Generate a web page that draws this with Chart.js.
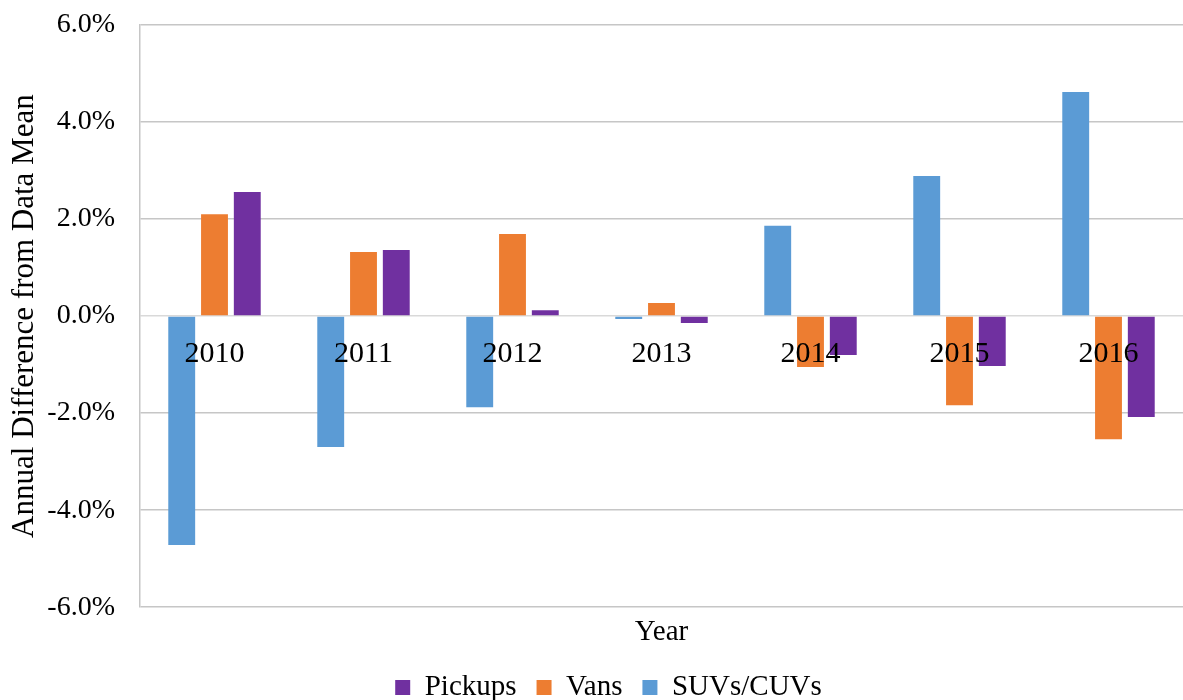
<!DOCTYPE html>
<html>
<head>
<meta charset="utf-8">
<script src="https://cdn.jsdelivr.net/npm/chart.js@4/dist/chart.umd.min.js"></script>
<style>
  html, body { margin: 0; padding: 0; background: #ffffff; }
  #wrap { width: 1183px; height: 700px; position: relative; }
</style>
</head>
<body>
<div id="wrap"><canvas id="c" width="1183" height="700"></canvas></div>
<script>
const years = ['2010', '2011', '2012', '2013', '2014', '2015', '2016'];
const suvValues = [-4.72, -2.70, -1.88, -0.06, 1.86, 2.89, 4.62];
const vanValues = [2.10, 1.32, 1.69, 0.27, -1.05, -1.84, -2.54];
const pickupValues = [2.56, 1.36, 0.12, -0.14, -0.80, -1.03, -2.08];
const yTicks = [-6, -4, -2, 0, 2, 4, 6];

const FONT = "'Liberation Serif', 'Times New Roman', serif";

// Category labels drawn next to the zero line, on top of the bars
const yearLabelsPlugin = {
  id: 'yearLabels',
  afterDatasetsDraw(chart) {
    const xs = chart.scales.x, ys = chart.scales.y;
    const ctx = chart.ctx;
    const y0 = ys.getPixelForValue(0);
    ctx.save();
    ctx.font = '30px ' + FONT;
    ctx.fillStyle = '#000000';
    ctx.textAlign = 'center';
    ctx.textBaseline = 'alphabetic';
    chart.data.labels.forEach((lab, i) => {
      ctx.fillText(lab, xs.getPixelForValue(i), y0 + 46);
    });
    ctx.restore();
  }
};

new Chart(document.getElementById('c'), {
  type: 'bar',
  data: {
    labels: years,
    datasets: [
      { label: 'SUVs/CUVs', data: suvValues, backgroundColor: '#5B9BD5', xAxisID: 'x' },
      { label: 'Vans', data: vanValues, backgroundColor: '#ED7D31', xAxisID: 'x' },
      { label: 'Pickups', data: pickupValues, backgroundColor: '#7030A0', xAxisID: 'x' }
    ]
  },
  plugins: [yearLabelsPlugin],
  options: {
    responsive: false,
    animation: false,
    devicePixelRatio: 1,
    categoryPercentage: 0.66,
    barPercentage: 0.82,
    layout: { padding: { top: 0, right: 0, bottom: -12, left: 34 } },
    plugins: {
      tooltip: { enabled: false },
      legend: {
        position: 'bottom',
        reverse: true,
        labels: {
          font: { family: FONT, size: 29 },
          color: '#000000',
          boxWidth: 15,
          boxHeight: 15,
          padding: 20
        }
      }
    },
    scales: {
      x: {
        type: 'category',
        display: false,
        offset: true
      },
      x2: {
        type: 'category',
        position: 'bottom',
        offset: true,
        grid: { display: false, drawTicks: false },
        border: { display: false },
        ticks: { display: false },
        title: {
          display: true,
          text: 'Year',
          font: { family: FONT, size: 29 },
          color: '#000000',
          padding: { top: 8, bottom: 3 }
        }
      },
      y: {
        min: -6,
        max: 6,
        afterFit: (scale) => {
          scale.width = 106;
          scale.paddingTop = 25;
          scale.paddingBottom = 0;
        },
        afterBuildTicks: (scale) => { scale.ticks = yTicks.map(v => ({ value: v })); },
        grid: {
          color: (ctx) => ctx.tick && ctx.tick.value === 0 ? '#d9d9d9' : '#c6c6c6',
          lineWidth: 1.5,
          drawTicks: false
        },
        border: { display: true, color: '#c6c6c6', width: 1.5 },
        ticks: {
          font: { family: FONT, size: 28 },
          color: '#000000',
          padding: 25,
          callback: (v) => v.toFixed(1) + '%'
        },
        title: {
          display: true,
          text: 'Annual Difference from Data Mean',
          font: { family: FONT, size: 31 },
          color: '#000000',
          padding: { top: -28, bottom: 0 }
        }
      }
    }
  }
});
</script>
</body>
</html>
